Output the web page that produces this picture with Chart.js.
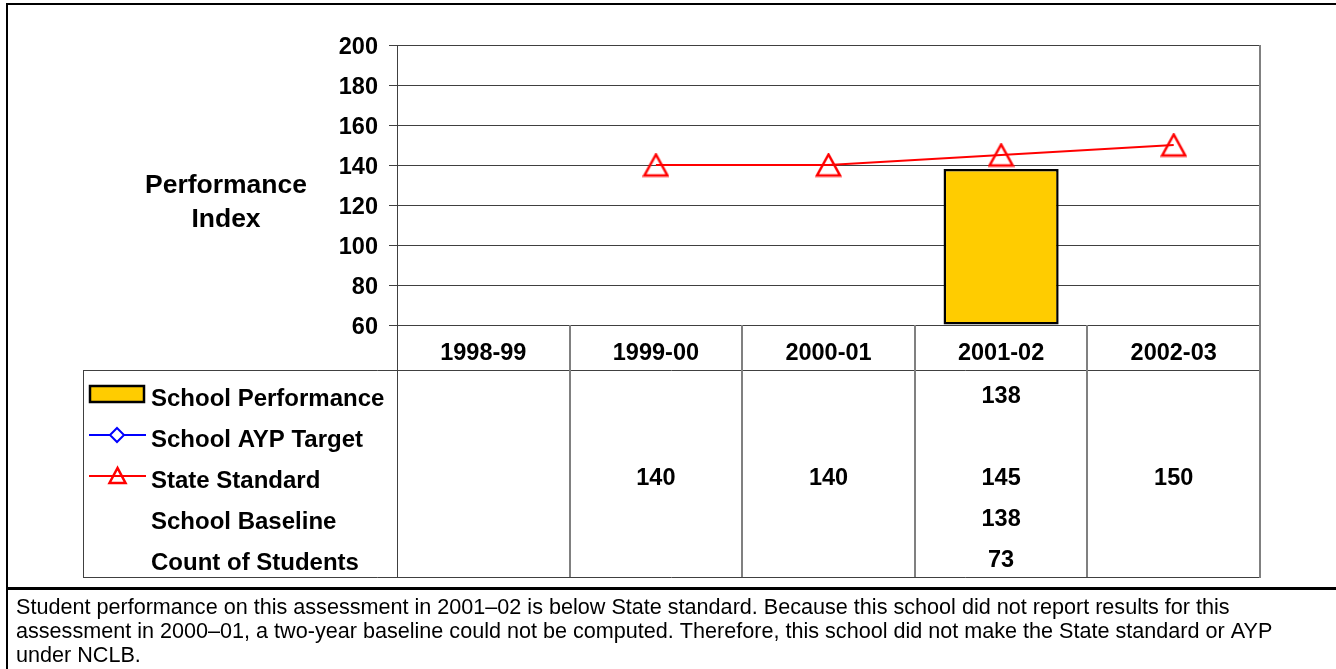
<!DOCTYPE html>
<html>
<head>
<meta charset="utf-8">
<script src="https://cdn.jsdelivr.net/npm/chart.js@4.4.1/dist/chart.umd.min.js"></script>
<style>
  html, body { margin: 0; padding: 0; background: #fff; }
  #wrap { width: 1336px; height: 669px; position: relative; }
</style>
</head>
<body>
<div id="wrap"><canvas id="chart" width="1336" height="669"></canvas></div>
<script>
var FONT = '"Liberation Sans", Arial, sans-serif';

// data
var years = ['1998-99', '1999-00', '2000-01', '2001-02', '2002-03'];
var schoolPerformance = [null, null, null, 138, null];
var schoolAypTarget = [null, null, null, null, null];
var stateStandard = [null, 140, 140, 145, 150];
var schoolBaseline = [null, null, null, 138, null];
var studentCount = [null, null, null, 73, null];
var yTicks = [60, 80, 100, 120, 140, 160, 180, 200];

var tableRows = [
    { label: 'School Performance', values: schoolPerformance, key: 'bar' },
    { label: 'School AYP Target', values: schoolAypTarget, key: 'ayp' },
    { label: 'State Standard', values: stateStandard, key: 'state' },
    { label: 'School Baseline', values: schoolBaseline, key: null },
    { label: 'Count of Students', values: studentCount, key: null }
];

var noteLines = [
    'Student performance on this assessment in 2001\u201302 is below State standard. Because this school did not report results for this',
    'assessment in 2000\u201301, a two-year baseline could not be computed. Therefore, this school did not make the State standard or AYP',
    'under NCLB.'
];

// hollow triangle marker, Excel style (centred on the point)
function triangleMarker(w, h, lw) {
    var c = document.createElement('canvas');
    c.width = w + 4;
    c.height = h + 4;
    var g = c.getContext('2d');
    g.strokeStyle = '#ff0000';
    g.lineWidth = lw;
    g.lineJoin = 'miter';
    g.beginPath();
    g.moveTo(c.width / 2, 2);
    g.lineTo(2, h + 2);
    g.lineTo(w + 2, h + 2);
    g.closePath();
    g.stroke();
    return c;
}

var triImg = triangleMarker(23, 21, 2.5);

var tablePlugin = {
    id: 'tablePlugin',
    afterDraw: function(chart) {
        var ctx = chart.ctx;
        var area = chart.chartArea;
        var xs = chart.scales.x;
        var top = area.top, left = area.left, right = area.right, bottom = area.bottom;
        var rowTop = 370, tableBottom = 577, tableLeft = 83;
        var rowCentres = [399, 440, 481, 522, 563];

        ctx.save();

        // outer frame
        ctx.strokeStyle = '#000';
        ctx.lineWidth = 2;
        ctx.beginPath();
        ctx.moveTo(7, 669);
        ctx.lineTo(7, 4);
        ctx.lineTo(1336, 4);
        ctx.stroke();
        ctx.lineWidth = 3;
        ctx.beginPath();
        ctx.moveTo(6, 588.5);
        ctx.lineTo(1336, 588.5);
        ctx.stroke();

        // table grid
        ctx.lineWidth = 1;
        ctx.strokeStyle = '#404040';
        ctx.beginPath();
        ctx.moveTo(tableLeft, rowTop + 0.5);
        ctx.lineTo(right, rowTop + 0.5);
        ctx.moveTo(tableLeft, tableBottom + 0.5);
        ctx.lineTo(right, tableBottom + 0.5);
        ctx.moveTo(tableLeft + 0.5, rowTop);
        ctx.lineTo(tableLeft + 0.5, tableBottom);
        ctx.moveTo(left + 0.5, bottom);
        ctx.lineTo(left + 0.5, tableBottom);
        ctx.stroke();

        ctx.strokeStyle = '#808080';
        ctx.lineWidth = 2;
        ctx.beginPath();
        for (var i = 1; i < years.length; i++) {
            var bx = Math.round((xs.getPixelForValue(i - 1) + xs.getPixelForValue(i)) / 2);
            ctx.moveTo(bx, bottom);
            ctx.lineTo(bx, tableBottom);
        }
        ctx.moveTo(right, top);
        ctx.lineTo(right, tableBottom + 1);
        ctx.stroke();

        // axis title
        ctx.fillStyle = '#000';
        ctx.font = 'bold 26.5px ' + FONT;
        ctx.textAlign = 'center';
        ctx.textBaseline = 'middle';
        ctx.fillText('Performance', 226, 186);
        ctx.fillText('Index', 226, 220);

        // legend column + values
        for (var r = 0; r < tableRows.length; r++) {
            var row = tableRows[r];
            var cy = rowCentres[r];
            ctx.font = 'bold 24px ' + FONT;
            ctx.textAlign = 'left';
            ctx.fillText(row.label, 151, cy);
            var sy = cy - 5;
            if (row.key == 'bar') {
                ctx.fillStyle = '#ffcc00';
                ctx.fillRect(90, sy - 8, 54, 16);
                ctx.strokeStyle = '#000';
                ctx.lineWidth = 2.5;
                ctx.strokeRect(90, sy - 8, 54, 16);
                ctx.fillStyle = '#000';
            } else if (row.key == 'ayp') {
                ctx.strokeStyle = '#0000ff';
                ctx.lineWidth = 2;
                ctx.beginPath();
                ctx.moveTo(89, sy);
                ctx.lineTo(146, sy);
                ctx.stroke();
                ctx.fillStyle = '#fff';
                ctx.beginPath();
                ctx.moveTo(117, sy - 7);
                ctx.lineTo(124, sy);
                ctx.lineTo(117, sy + 7);
                ctx.lineTo(110, sy);
                ctx.closePath();
                ctx.fill();
                ctx.stroke();
                ctx.fillStyle = '#000';
            } else if (row.key == 'state') {
                ctx.strokeStyle = '#ff0000';
                ctx.lineWidth = 2;
                ctx.beginPath();
                ctx.moveTo(89, sy);
                ctx.lineTo(146, sy);
                ctx.stroke();
                ctx.lineWidth = 2.5;
                ctx.beginPath();
                ctx.moveTo(117.5, sy - 8);
                ctx.lineTo(109.5, sy + 7);
                ctx.lineTo(125.5, sy + 7);
                ctx.closePath();
                ctx.stroke();
            }
            ctx.font = 'bold 23.5px ' + FONT;
            ctx.textAlign = 'center';
            for (var c = 0; c < years.length; c++) {
                if (row.values[c] != null) {
                    ctx.fillText(String(row.values[c]), xs.getPixelForValue(c), cy - 2);
                }
            }
        }

        // footnote
        ctx.font = '21.6px ' + FONT;
        ctx.textAlign = 'left';
        for (var n = 0; n < noteLines.length; n++) {
            ctx.fillText(noteLines[n], 16, 608 + n * 24);
        }

        ctx.restore();
    }
};

new Chart(document.getElementById('chart'), {
    data: {
        labels: years,
        datasets: [{
            type: 'line',
            label: 'State Standard',
            data: stateStandard,
            borderColor: '#ff0000',
            borderWidth: 2,
            pointStyle: triImg,
            pointRadius: 11,
            fill: false,
            tension: 0,
            order: 0
        }, {
            type: 'line',
            label: 'School AYP Target',
            data: schoolAypTarget,
            borderColor: '#0000ff',
            borderWidth: 2,
            pointStyle: 'rectRot',
            fill: false,
            order: 1
        }, {
            type: 'bar',
            label: 'School Performance',
            data: schoolPerformance,
            backgroundColor: '#ffcc00',
            borderColor: '#000',
            borderWidth: 2.5,
            borderSkipped: false,
            base: 60,
            barPercentage: 0.667,
            categoryPercentage: 1,
            order: 2
        }]
    },
    options: {
        responsive: false,
        animation: false,
        events: [],
        layout: { padding: { top: 45, right: 76, left: 0, bottom: 0 } },
        plugins: {
            legend: { display: false },
            tooltip: { enabled: false },
            title: { display: false }
        },
        scales: {
            x: {
                grid: { display: false, drawTicks: false },
                border: { display: false },
                ticks: {
                    color: '#000',
                    font: { family: FONT, size: 23.5, weight: 'bold' },
                    padding: 14,
                    maxRotation: 0
                },
                afterFit: function(s) { s.height = 344; }
            },
            y: {
                min: 60,
                max: 200,
                afterBuildTicks: function(s) {
                    s.ticks = yTicks.map(function(v) { return { value: v }; });
                },
                grid: { color: '#404040', lineWidth: 1, tickLength: 8 },
                border: { display: true, color: '#404040', width: 1 },
                ticks: {
                    color: '#000',
                    font: { family: FONT, size: 23.5, weight: 'bold' },
                    padding: 11,
                    labelOffset: 3
                },
                afterFit: function(s) { s.width = 397; }
            }
        }
    },
    plugins: [tablePlugin]
});
</script>
</body>
</html>
